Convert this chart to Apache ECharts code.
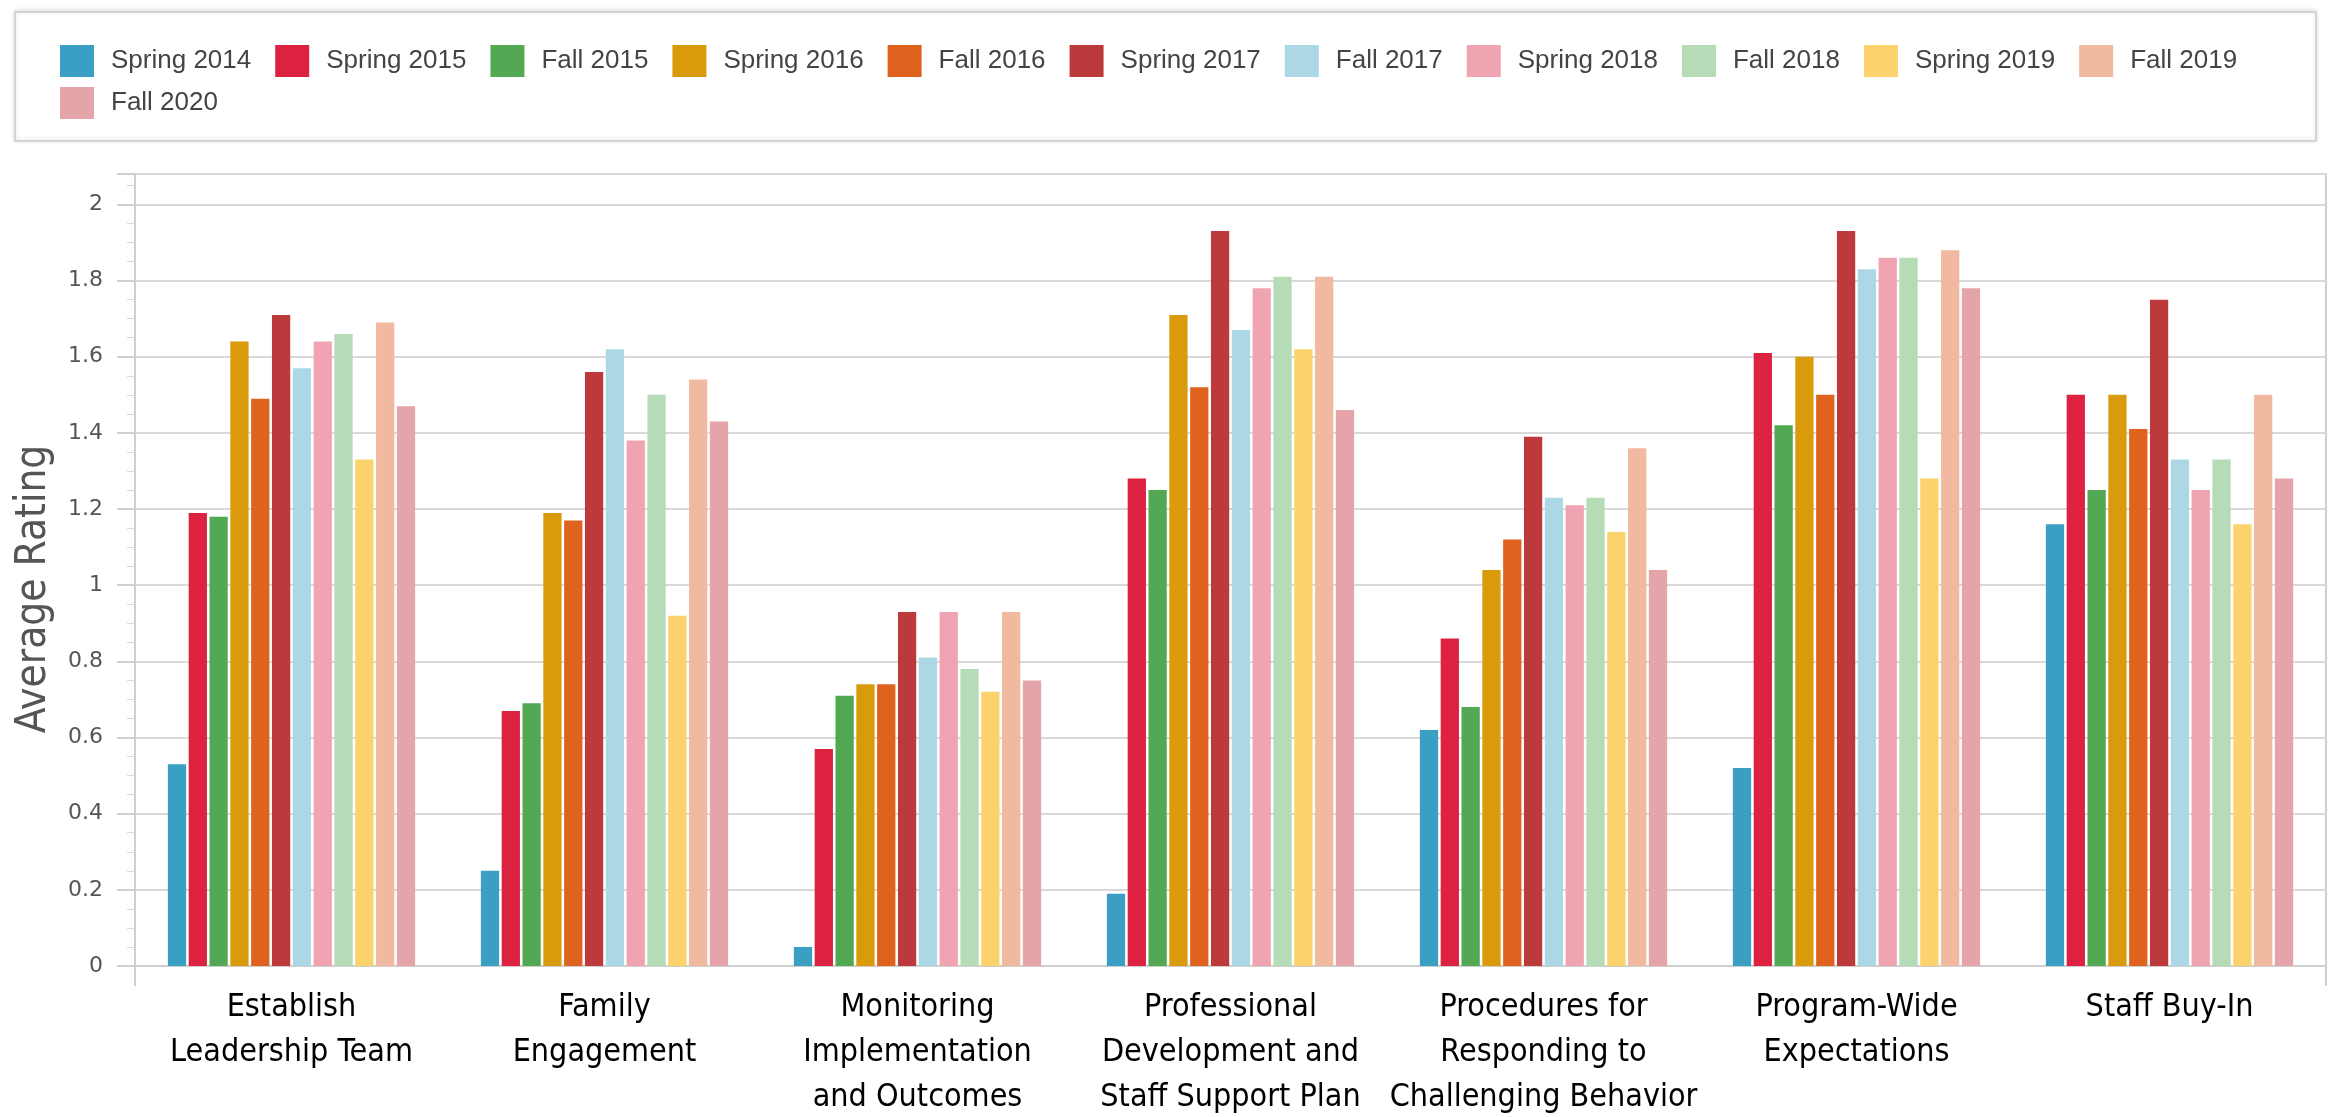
<!DOCTYPE html>
<html>
<head>
<meta charset="utf-8">
<title>Average Rating by Critical Element</title>
<script src="https://cdn.jsdelivr.net/npm/echarts@6/dist/echarts.min.js"></script>
<style>
  html, body { margin: 0; padding: 0; background: #ffffff; }
  #chart { width: 2331px; height: 1117px; }
</style>
</head>
<body>
<div id="chart"></div>
<script>
// Critical elements shown along the x axis
const categories = [
  'Establish\nLeadership Team',
  'Family\nEngagement',
  'Monitoring\nImplementation\nand Outcomes',
  'Professional\nDevelopment and\nStaff Support Plan',
  'Procedures for\nResponding to\nChallenging Behavior',
  'Program-Wide\nExpectations',
  'Staff Buy-In'
];

// Y axis ticks
const yTicks = [0, 0.2, 0.4, 0.6, 0.8, 1, 1.2, 1.4, 1.6, 1.8, 2];

// Average rating per assessment term, one value per element
const spring2014 = [0.53, 0.25, 0.05, 0.19, 0.62, 0.52, 1.16];
const spring2015 = [1.19, 0.67, 0.57, 1.28, 0.86, 1.61, 1.50];
const fall2015   = [1.18, 0.69, 0.71, 1.25, 0.68, 1.42, 1.25];
const spring2016 = [1.64, 1.19, 0.74, 1.71, 1.04, 1.60, 1.50];
const fall2016   = [1.49, 1.17, 0.74, 1.52, 1.12, 1.50, 1.41];
const spring2017 = [1.71, 1.56, 0.93, 1.93, 1.39, 1.93, 1.75];
const fall2017   = [1.57, 1.62, 0.81, 1.67, 1.23, 1.83, 1.33];
const spring2018 = [1.64, 1.38, 0.93, 1.78, 1.21, 1.86, 1.25];
const fall2018   = [1.66, 1.50, 0.78, 1.81, 1.23, 1.86, 1.33];
const spring2019 = [1.33, 0.92, 0.72, 1.62, 1.14, 1.28, 1.16];
const fall2019   = [1.69, 1.54, 0.93, 1.81, 1.36, 1.88, 1.50];
const fall2020   = [1.47, 1.43, 0.75, 1.46, 1.04, 1.78, 1.28];

const termNames = ['Spring 2014', 'Spring 2015', 'Fall 2015', 'Spring 2016', 'Fall 2016',
  'Spring 2017', 'Fall 2017', 'Spring 2018', 'Fall 2018', 'Spring 2019', 'Fall 2019', 'Fall 2020'];
const termValues = [spring2014, spring2015, fall2015, spring2016, fall2016, spring2017,
  fall2017, spring2018, fall2018, spring2019, fall2019, fall2020];
const termColors = ['#3a9fc2', '#dc2141', '#53a853', '#d99a0c', '#e0621f', '#bc3a3b',
  '#acd7e5', '#f0a4b1', '#b6dcb7', '#fbd26c', '#f1b99f', '#e4a4a9'];

const chart = echarts.init(document.getElementById('chart'), null, { renderer: 'canvas' });

const legendText = {
  fontFamily: 'Liberation Sans, Arial, sans-serif',
  fontSize: 26,
  color: '#444444',
  padding: [0, 0, 0, 12]
};

const series = termNames.map((name, i) => ({
  name: name,
  type: 'bar',
  data: termValues[i],
  itemStyle: { color: termColors[i] },
  barCategoryGap: '21%',
  barGap: '14%',
  emphasis: { disabled: true }
}));

const legendBase = {
  left: 55,
  width: 2260,
  itemWidth: 34, itemHeight: 32, itemGap: 24,
  icon: 'rect',
  textStyle: legendText
};

const option = {
  backgroundColor: '#ffffff',
  animation: false,
  color: termColors,
  graphic: [{
    type: 'rect',
    z: -10,
    silent: true,
    shape: { x: 15, y: 12, width: 2301, height: 129 },
    style: { fill: '#ffffff', stroke: '#d4d4d4', lineWidth: 2,
      shadowBlur: 4, shadowColor: 'rgba(0,0,0,0.12)', shadowOffsetY: -1 }
  }],
  legend: [
    Object.assign({}, legendBase, { top: 40, data: termNames.slice(0, 11) }),
    Object.assign({}, legendBase, { top: 82, data: termNames.slice(11) })
  ],
  grid: {
    left: 135, right: 5, top: 174, bottom: 151,
    show: true, borderColor: '#cfcfcf', borderWidth: 2,
    containLabel: false,
    outerBoundsMode: 'none'
  },
  xAxis: {
    type: 'category',
    data: categories,
    axisLine: { show: true, lineStyle: { color: '#cfcfcf', width: 2 } },
    axisTick: { show: true, length: 20, interval: (i) => i === 0, lineStyle: { color: '#cfcfcf', width: 2 } },
    axisLabel: {
      interval: 0,
      margin: 19,
      color: '#000000',
      fontFamily: 'Liberation Sans Narrow, DejaVu Sans Condensed, sans-serif',
      fontSize: 32,
      lineHeight: 45
    }
  },
  yAxis: {
    type: 'value',
    min: 0,
    max: 2.08,
    interval: 0.2,
    name: 'Average Rating',
    nameLocation: 'middle',
    nameRotate: 90,
    nameGap: 80,
    nameTextStyle: {
      fontFamily: 'Liberation Sans Narrow, DejaVu Sans Condensed, sans-serif',
      fontSize: 42,
      color: '#555555',
      padding: [0, 38, 0, 0]
    },
    axisLine: { show: true, lineStyle: { color: '#cfcfcf', width: 2 } },
    axisTick: { show: true, length: 18, lineStyle: { color: '#cfcfcf', width: 2 } },
    minorTick: { show: true, splitNumber: 4, length: 8, lineStyle: { color: '#d8d8d8', width: 1 } },
    splitLine: { show: true, lineStyle: { color: '#d9d9d9', width: 2 } },
    axisLabel: {
      margin: 32,
      color: '#555555',
      fontFamily: 'DejaVu Sans, sans-serif',
      fontSize: 22,
      formatter: (v) => {
        const hit = yTicks.find(t => Math.abs(t - v) < 1e-9);
        return hit === undefined ? '' : String(hit);
      }
    }
  },
  series: series
};

chart.setOption(option);
</script>
</body>
</html>
